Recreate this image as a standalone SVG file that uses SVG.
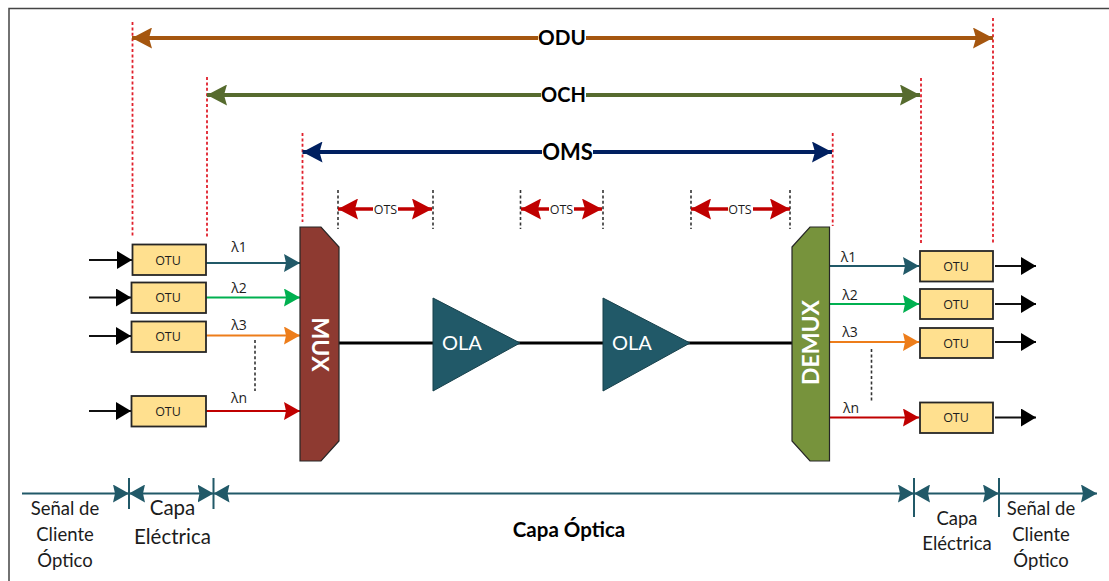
<svg xmlns="http://www.w3.org/2000/svg" width="1109" height="581" viewBox="0 0 1109 581">
<style>
text{font-family:"Lato","Open Sans",sans-serif;text-anchor:middle;fill:#1c1c1c}
.otu rect{fill:#ffe08f;stroke:#262626;stroke-width:1.8}
.otu text{font-size:12.500px;font-family:"Open Sans",sans-serif}
.red{stroke:#e0202c;stroke-width:1.800;stroke-dasharray:3 2.400;fill:none}
.blk{stroke:#333;stroke-width:1.600;stroke-dasharray:3 2.400;fill:none}
.big{font-weight:700;fill:#000}
.lam{font-size:14px;font-family:"Open Sans",sans-serif}
.cap{font-size:18.500px}
.capl{font-size:20.500px}
.ots{font-size:12.500px;font-family:"Open Sans",sans-serif}
</style>
<defs>
<marker id="ao" viewBox="0 0 20 21" refX="20" refY="10.500" markerWidth="20" markerHeight="21" markerUnits="userSpaceOnUse" orient="auto-start-reverse"><path d="M0 0L20 10.500L0 21L3 10.500Z" fill="#a5560f"/></marker>
<marker id="ag" viewBox="0 0 20 21" refX="20" refY="10.500" markerWidth="20" markerHeight="21" markerUnits="userSpaceOnUse" orient="auto-start-reverse"><path d="M0 0L20 10.500L0 21L3 10.500Z" fill="#566b2e"/></marker>
<marker id="an" viewBox="0 0 20 21" refX="20" refY="10.500" markerWidth="20" markerHeight="21" markerUnits="userSpaceOnUse" orient="auto-start-reverse"><path d="M0 0L20 10.500L0 21L3 10.500Z" fill="#002060"/></marker>
<marker id="ar" viewBox="0 0 20 21" refX="20" refY="10.500" markerWidth="20" markerHeight="21" markerUnits="userSpaceOnUse" orient="auto-start-reverse"><path d="M0 0L20 10.500L0 21L3 10.500Z" fill="#c00000"/></marker>
<marker id="s1" viewBox="0 0 16 18" refX="16" refY="9" markerWidth="16" markerHeight="18" markerUnits="userSpaceOnUse" orient="auto-start-reverse"><path d="M0 0L16 9L0 18L2 9Z" fill="#215968"/></marker>
<marker id="s2" viewBox="0 0 16 18" refX="16" refY="9" markerWidth="16" markerHeight="18" markerUnits="userSpaceOnUse" orient="auto-start-reverse"><path d="M0 0L16 9L0 18L2 9Z" fill="#00b050"/></marker>
<marker id="s3" viewBox="0 0 16 18" refX="16" refY="9" markerWidth="16" markerHeight="18" markerUnits="userSpaceOnUse" orient="auto-start-reverse"><path d="M0 0L16 9L0 18L2 9Z" fill="#ed7d1a"/></marker>
<marker id="s4" viewBox="0 0 16 18" refX="16" refY="9" markerWidth="16" markerHeight="18" markerUnits="userSpaceOnUse" orient="auto-start-reverse"><path d="M0 0L16 9L0 18L2 9Z" fill="#c00000"/></marker>
<marker id="k" viewBox="0 0 15 18" refX="15" refY="9" markerWidth="15" markerHeight="18" markerUnits="userSpaceOnUse" orient="auto-start-reverse"><path d="M0 0L15 9L0 18Z" fill="#000"/></marker>
</defs>
<rect width="1109" height="581" fill="#fff"/>
<path d="M9 581V8.500H1109" fill="none" stroke="#444" stroke-width="1.500"/>

<g id="connectors" fill="none">
<path class="red" d="M132.500 22V237M207 77V237M302.500 133V222M993 18V244M921 78V244M832.700 133V226"/>
<path class="blk" d="M338 190V229M433 190V229M520.500 190V229M603 190V229M691 190V229M790 190V229M255 340V391M871.500 349V401"/>
<path d="M132 38H993" stroke="#a5560f" stroke-width="4" marker-start="url(#ao)" marker-end="url(#ao)"/>
<path d="M207 95H920" stroke="#566b2e" stroke-width="4" marker-start="url(#ag)" marker-end="url(#ag)"/>
<path d="M302.500 152H832" stroke="#002060" stroke-width="4" marker-start="url(#an)" marker-end="url(#an)"/>
<g stroke="#c00000" stroke-width="3.500">
<path d="M338 209H432" marker-start="url(#ar)" marker-end="url(#ar)"/>
<path d="M521 209H602" marker-start="url(#ar)" marker-end="url(#ar)"/>
<path d="M691 209H790" marker-start="url(#ar)" marker-end="url(#ar)"/>
</g>
<g stroke="#111" stroke-width="2">
<path d="M89 260H132" marker-end="url(#k)"/><path d="M89 297.500H131" marker-end="url(#k)"/><path d="M89 336H131" marker-end="url(#k)"/><path d="M89 411H131" marker-end="url(#k)"/>
<path d="M995 266H1036" marker-end="url(#k)"/><path d="M995 304H1036" marker-end="url(#k)"/><path d="M995 342H1036" marker-end="url(#k)"/><path d="M995 417.500H1036" marker-end="url(#k)"/>
</g>
<g stroke-width="2">
<path d="M206 263H300" stroke="#215968" marker-end="url(#s1)"/>
<path d="M206 297.500H300" stroke="#00b050" marker-end="url(#s2)"/>
<path d="M206 335.500H300" stroke="#ed7d1a" marker-end="url(#s3)"/>
<path d="M206 411H300" stroke="#c00000" marker-end="url(#s4)"/>
<path d="M829 266H919" stroke="#215968" marker-end="url(#s1)"/>
<path d="M829 304H919" stroke="#00b050" marker-end="url(#s2)"/>
<path d="M829 342H919" stroke="#ed7d1a" marker-end="url(#s3)"/>
<path d="M829 417.500H919" stroke="#c00000" marker-end="url(#s4)"/>
</g>
<path d="M339 343H792" stroke="#000" stroke-width="3"/>
<g stroke="#215968" stroke-width="2">
<path d="M22 493.500H129" marker-end="url(#s1)"/>
<path d="M129 493.500H213.500" marker-start="url(#s1)" marker-end="url(#s1)"/>
<path d="M213.500 493.500H914" marker-start="url(#s1)" marker-end="url(#s1)"/>
<path d="M914 493.500H999" marker-start="url(#s1)" marker-end="url(#s1)"/>
<path d="M999 493.500H1097" marker-end="url(#s1)"/>
<path d="M129 478V509M213.500 478V509M914 478V517M999 478V517"/>
</g>
</g>

<g id="mux"><path d="M300 227H321L339 247V441L321 461H300Z" fill="#8e3a31" stroke="#262626" stroke-width="1.200"/><text transform="translate(319.500 344.500) rotate(90)" dy="8" font-size="23" font-weight="700" style="fill:#fff">MUX</text></g>
<g id="demux"><path d="M792 247L810 227H829.500V461H810L792 441Z" fill="#77933c" stroke="#262626" stroke-width="1.200"/><text transform="translate(810.500 342.500) rotate(-90)" dy="8" font-size="23" font-weight="700" style="fill:#fff">DEMUX</text></g>
<g id="ola1"><path d="M433 298L520 343L433 391Z" fill="#215968" stroke="#17404b"/><text x="462" y="350" font-size="20" style="fill:#fff">OLA</text></g>
<g id="ola2"><path d="M603 298L690 343L603 391Z" fill="#215968" stroke="#17404b"/><text x="632" y="350" font-size="20" style="fill:#fff">OLA</text></g>

<g id="otu-l1" class="otu"><rect x="132.500" y="244.500" width="73.500" height="30.500"/><text x="168" y="264.500">OTU</text></g>
<g id="otu-l2" class="otu"><rect x="131.500" y="282.500" width="74.500" height="30.500"/><text x="168" y="302">OTU</text></g>
<g id="otu-l3" class="otu"><rect x="131.500" y="321.500" width="74.500" height="30.500"/><text x="168" y="341">OTU</text></g>
<g id="otu-l4" class="otu"><rect x="131.500" y="396" width="74.500" height="30.500"/><text x="168" y="415.500">OTU</text></g>
<g id="otu-r1" class="otu"><rect x="920" y="251" width="73" height="30.500"/><text x="956" y="270.500">OTU</text></g>
<g id="otu-r2" class="otu"><rect x="920" y="289" width="73" height="30"/><text x="956" y="308.500">OTU</text></g>
<g id="otu-r3" class="otu"><rect x="920" y="328" width="73" height="30"/><text x="956" y="347.500">OTU</text></g>
<g id="otu-r4" class="otu"><rect x="920" y="402.500" width="73" height="30.500"/><text x="956" y="422">OTU</text></g>

<g id="labels">
<rect x="538" y="26" width="48" height="24" fill="#fff"/><text class="big" x="562" y="45" font-size="20.700">ODU</text>
<rect x="541" y="83" width="45" height="24" fill="#fff"/><text class="big" x="563.500" y="102" font-size="20">OCH</text>
<rect x="542" y="140" width="51" height="24" fill="#fff"/><text class="big" x="567.500" y="159.500" font-size="22">OMS</text>
<rect x="373" y="202" width="25" height="14" fill="#fff"/><text class="ots" x="385.500" y="213.500">OTS</text>
<rect x="549" y="202" width="25" height="14" fill="#fff"/><text class="ots" x="561.500" y="213.500">OTS</text>
<rect x="728" y="202" width="25" height="14" fill="#fff"/><text class="ots" x="740" y="213.500">OTS</text>
<text class="lam" x="239" y="252">λ1</text><text class="lam" x="239" y="293">λ2</text><text class="lam" x="239" y="330">λ3</text><text class="lam" x="239" y="403">λn</text>
<text class="lam" x="848.500" y="262">λ1</text><text class="lam" x="850" y="300">λ2</text><text class="lam" x="850" y="337">λ3</text><text class="lam" x="851" y="413">λn</text>
<text class="cap"><tspan x="65" y="515">Señal de</tspan><tspan x="65" y="541">Cliente</tspan><tspan x="65" y="567">Óptico</tspan></text>
<text class="capl"><tspan x="172.500" y="515">Capa</tspan><tspan x="172.500" y="544">Eléctrica</tspan></text>
<text class="capl" style="font-weight:700;fill:#000" x="569" y="537">Capa Óptica</text>
<text class="cap"><tspan x="957" y="525">Capa</tspan><tspan x="957" y="550">Eléctrica</tspan></text>
<text class="cap"><tspan x="1041" y="515">Señal de</tspan><tspan x="1041" y="541">Cliente</tspan><tspan x="1041" y="567">Óptico</tspan></text>
</g>
</svg>
